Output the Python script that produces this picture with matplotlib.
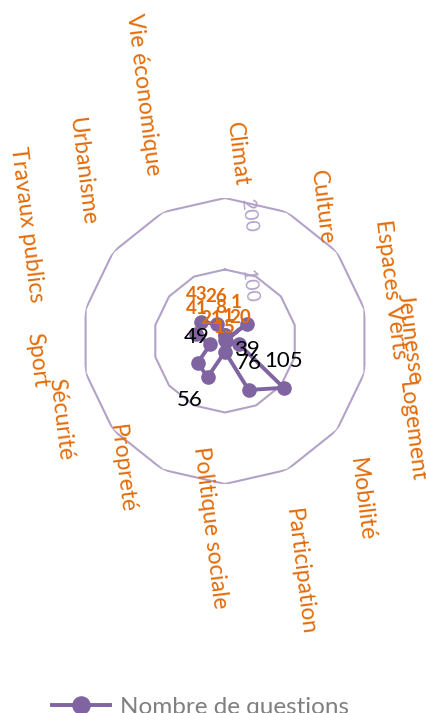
import numpy as np
import matplotlib
matplotlib.use('Agg')
import matplotlib.pyplot as plt

plt.rcParams['font.family'] = ['Lato', 'DejaVu Sans']

categories = ['Climat', 'Culture', 'Espaces Verts', 'Jeunesse', 'Logement', 'Mobilité',
              'Participation', 'Politique sociale', 'Propreté', 'Sécurité', 'Sport',
              'Travaux publics', 'Urbanisme', 'Vie économique']
questions = [8, 1, 39, 1, 20, 105, 76, 15, 56, 49, 21, 41, 43, 26]
r_ticks = [100, 200]
series_name = 'Nombre de questions'

# where the category labels ended up (angle in deg, radius in data units)
cat_label_theta = [3.7, 35.9, 72.6, 89.1, 116.1, 139.3, 162, 184.6, 218.8, 244.7, 264.2, 300.4, 319.9, 341.6]
cat_label_r = [262, 231, 243, 259, 290, 293, 340, 262, 230, 255, 264, 321, 310, 364]
# value labels: offset from the point (pixels) and which ones are black
val_label_offset = [(-4, 28), (11, 38), (0, -26), (2, 24), (1, 27), (0, 27), (0, 27),
                    (0, 24), (-18, -23), (-1, 26), (1, 26), (0, 26), (-4, 27), (-1, 28)]
val_label_black = [False, False, True, False, False, True, True,
                   False, True, True, False, False, False, False]

orange = '#e36c0a'
purple = '#8064a2'
grid_col = '#b3a2c7'
rot = -83

n = len(categories)
angles = np.deg2rad(np.arange(n) * 360.0 / n)
angles_closed = np.append(angles, angles[0])
vals_closed = questions + questions[:1]

fig = plt.figure(figsize=(4.26, 7.13), dpi=100)
ax = fig.add_axes([0.1925, 0.3212, 0.6714, 0.4011], projection='polar')
ax.set_theta_zero_location('N')
ax.set_theta_direction(-1)
ax.set_ylim(0, 200)
ax.grid(False)
ax.spines['polar'].set_visible(False)
ax.set_xticks([])
ax.set_yticks([])
ax.patch.set_alpha(0)

# polygon grid like excel
for t in r_ticks:
    ax.plot(angles_closed, [t] * (n + 1), color=grid_col, lw=1.5, zorder=1)
    ax.annotate(str(t), xy=(0, t), xytext=(24, -17), textcoords='offset pixels',
                ha='center', va='center', rotation=rot, color=grid_col,
                fontsize=14, annotation_clip=False)

line, = ax.plot(angles_closed, vals_closed, color=purple, lw=2.8, marker='o', ms=9.5,
                label=series_name, zorder=3)

for a, v, off, black in zip(angles, questions, val_label_offset, val_label_black):
    if black:
        ax.annotate(str(v), xy=(a, v), xytext=off, textcoords='offset pixels',
                    ha='center', va='center', color='black', fontsize=16, zorder=5)
    else:
        ax.annotate(str(v), xy=(a, v), xytext=off, textcoords='offset pixels',
                    ha='center', va='center', color=orange, fontsize=13.5,
                    fontweight='bold', zorder=5)

for cat, th, r in zip(categories, cat_label_theta, cat_label_r):
    ax.text(np.deg2rad(th), r, cat, rotation=rot, ha='center', va='center',
            color=orange, fontsize=16.5, clip_on=False)

fig.legend(handles=[line], loc='center left', bbox_to_anchor=(52 / 426, 6 / 713),
           frameon=False, fontsize=17.5, handlelength=2.4, handletextpad=0.4,
           borderpad=0, borderaxespad=0, markerscale=1.3, labelcolor='#808080')

fig.savefig('out.png', dpi=100)
